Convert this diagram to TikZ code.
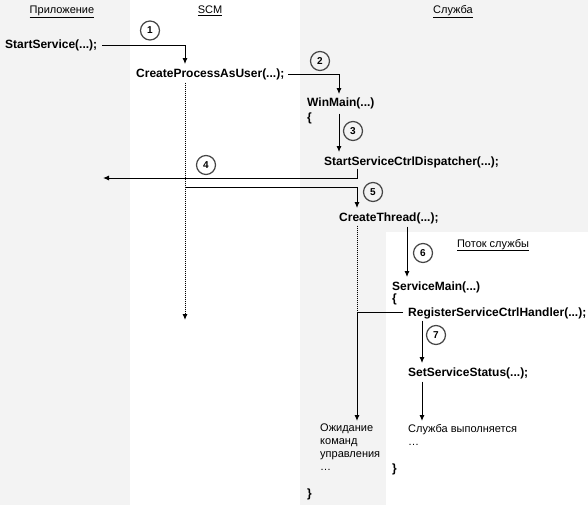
\documentclass[tikz,border=0pt]{standalone}
\usepackage{fontspec}
\setmainfont{Liberation Sans}
\usetikzlibrary{arrows.meta}

\definecolor{lanegray}{RGB}{243,243,243}
\definecolor{ringgray}{RGB}{70,70,70}

\tikzset{
  call/.style={anchor=base west, inner sep=0pt, font=\bfseries\fontsize{12}{14}\selectfont},
  note/.style={anchor=north west, inner sep=0pt, align=left, font=\fontsize{11}{13}\selectfont},
  lanehead/.style={anchor=base, inner sep=0pt, font=\fontsize{11}{13}\selectfont},
  stepno/.style={circle, draw=ringgray, line width=1.2pt, minimum size=19pt, inner sep=0pt, font=\bfseries\fontsize{10}{12}\selectfont},
  flow/.style={line width=1pt, -{Latex[length=6pt,width=5pt]}},
  idle/.style={line width=1pt, dash pattern=on 1pt off 1pt},
}

\begin{document}
\begin{tikzpicture}[x=1pt,y=-1pt]
  \useasboundingbox (0,0) rectangle (588,505);
  % Lanes
  \fill[lanegray] (0,0) rectangle (130,505);
  \fill[lanegray] (300,0) rectangle (588,505);
  \fill[white] (386,232) rectangle (588,505);
  \node[lanehead] (app) at (62,14) {\underline{Приложение}};
  \node[lanehead] (scmhead) at (210,14) {\underline{SCM}};
  \node[lanehead] (svchead) at (453,14) {\underline{Служба}};
  \node[lanehead] (thrhead) at (493,247) {\underline{Поток службы}};
  % Vertical tracks
  \coordinate (scm) at (185,0);
  \coordinate (svc) at (339,0);
  \coordinate (disp) at (357,0);
  \coordinate (thr) at (407,0);
  \coordinate (stat) at (422,0);
  % Calls
  \node[call] (ss) at (5,48.5) {StartService(...);};
  \node[call] (cpa) at (136,78) {CreateProcessAsUser(...);};
  \node[call] (wm) at (307,107) {WinMain(...)};
  \node[call] (wmopen) at (307,122) {\{};
  \node[call] (scd) at (324,165) {StartServiceCtrlDispatcher(...);};
  \node[call] (ct) at (339,221) {CreateThread(...);};
  \node[call] (sm) at (392,290) {ServiceMain(...)};
  \node[call] (smopen) at (392,302) {\{};
  \node[call] (reg) at (408,316) {RegisterServiceCtrlHandler(...);};
  \node[call] (sss) at (408,376) {SetServiceStatus(...);};
  \node[note] (run) at (408,424) {Служба выполняется\\…};
  \node[call] (smclose) at (392,472) {\}};
  \node[note] (wait) at (320,424) {Ожидание\\команд\\управления\\…};
  \node[call] (wmclose) at (307,497) {\}};
  % Step numbers
  \node[stepno] (s1) at (150,30.5) {1};
  \node[stepno] (s2) at (320,61) {2};
  \node[stepno] (s3) at (353,131) {3};
  \node[stepno] (s4) at (206,165) {4};
  \node[stepno] (s5) at (373,192) {5};
  \node[stepno] (s6) at (423,253) {6};
  \node[stepno] (s7) at (436,335) {7};
  % Step 1
  \draw[flow] ([xshift=5pt]ss.east) -| ([yshift=5pt]cpa.north -| scm);
  % Step 2
  \draw[flow] ([xshift=4pt]cpa.east) -| ([yshift=4pt]wm.north -| svc);
  % Step 3
  \draw[flow] ([yshift=-4pt]wm.south -| svc) -- ([yshift=4pt]scd.north -| svc);
  % SCM keeps waiting
  \coordinate (scmend) at (185,320);
  \draw[idle, -{Latex[length=6pt,width=5pt]}] ([yshift=-2pt]cpa.south -| scm) -- (scmend);
  % Step 4
  \coordinate (back) at (103,178);
  \draw[flow] ([yshift=-1pt]scd.south -| disp) |- (back);
  % Step 5
  \coordinate (fork) at (185,187);
  \draw[flow] (fork) -| ([yshift=4pt]ct.north -| disp);
  % Step 6
  \draw[flow] ([yshift=-3pt]ct.south -| thr) -- ([yshift=4pt]sm.north -| thr);
  % Dispatcher waits for commands
  \draw[idle] ([yshift=-2pt]ct.south -| disp) -- (reg.west -| disp);
  \draw[flow] ([xshift=-5pt]reg.west) -| ([yshift=3pt]wait.north -| disp);
  % Step 7
  \draw[flow] ([yshift=-2pt]reg.south -| stat) -- ([yshift=4pt]sss.north -| stat);
  \draw[flow] ([yshift=-3pt]sss.south -| stat) -- ([yshift=3pt]run.north -| stat);
\end{tikzpicture}
\end{document}
